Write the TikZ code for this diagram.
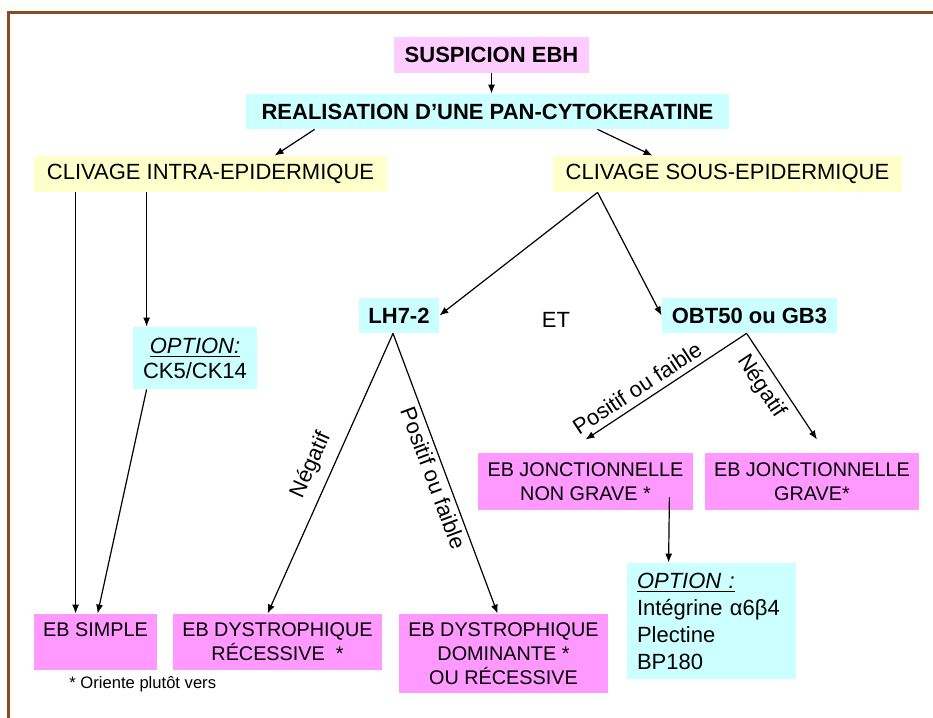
\documentclass[tikz,border=0pt]{standalone}
\usepackage{fontspec}
\setmainfont{Liberation Sans}
\usetikzlibrary{arrows.meta}
\definecolor{ebpink}{HTML}{FF99FF}
\definecolor{ebpale}{HTML}{FFCCFF}
\definecolor{ebcyan}{HTML}{CCFFFF}
\definecolor{ebyellow}{HTML}{FFFFCC}
\definecolor{framebrown}{RGB}{140,75,35}

\begin{document}
\begin{tikzpicture}[%
  x=0.5pt, y=-0.5pt,
  box/.style={inner sep=0pt, align=center, font=\fontsize{11}{12.5}\selectfont},
  pinkbox/.style={box, fill=ebpink, font=\fontsize{9.9}{12}\selectfont},
  palebox/.style={box, fill=ebpale},
  cyanbox/.style={box, fill=ebcyan},
  yellowbox/.style={box, fill=ebyellow},
  arr/.style={-{Latex[length=4.5pt,width=3.5pt]}, line width=0.6pt},
  tlabel/.style={font=\fontsize{11}{12}\selectfont, sloped, inner sep=2pt}]
\useasboundingbox (0,0) rectangle (933,718);
\draw[framebrown, line width=1.5pt] (8.5,718) -- (8.5,12.5) -- (933,12.5);

% top of the tree
\node[palebox, minimum width=97.5pt, minimum height=18pt] (susp) at (491.5,55) {\bfseries SUSPICION EBH};
\node[cyanbox, minimum width=241.5pt, minimum height=17.5pt] (real) at (487.5,111.5) {\bfseries REALISATION D’UNE PAN-CYTOKERATINE};
\node[yellowbox, minimum width=176.5pt, minimum height=18pt] (intra) at (210.5,174) {CLIVAGE INTRA-EPIDERMIQUE};
\node[yellowbox, minimum width=174.5pt, minimum height=18pt] (sous) at (727.5,174) {CLIVAGE SOUS-EPIDERMIQUE};

% markers
\node[cyanbox, minimum width=62pt, minimum height=31pt] (optck) at (195,358) {\underline{\textit{OPTION:}}\\CK5/CK14};
\node[cyanbox, minimum width=40pt, minimum height=17.5pt] (lh) at (399,315.5) {\bfseries LH7-2};
\node[cyanbox, minimum width=87.5pt, minimum height=17.5pt] (obt) at (749.5,315.5) {\bfseries OBT50 ou GB3};
\node[box] (et) at (556,320) {ET};

% diagnoses
\node[pinkbox, minimum width=61.5pt, minimum height=28pt] (simple) at (95.5,642) {EB SIMPLE\\\mbox{}};
\node[pinkbox, minimum width=104.5pt, minimum height=28pt] (rec) at (277.5,642) {EB DYSTROPHIQUE\\RÉCESSIVE\ \ *};
\node[pinkbox, minimum width=104.5pt, minimum height=39.5pt] (dom) at (503.5,653.5) {EB DYSTROPHIQUE\\DOMINANTE *\\OU RÉCESSIVE};
\node[pinkbox, minimum width=107.5pt, minimum height=28.5pt] (nongrave) at (585.5,481.5) {EB JONCTIONNELLE\\NON GRAVE *};
\node[pinkbox, minimum width=107pt, minimum height=28.5pt] (grave) at (812,481.5) {EB JONCTIONNELLE\\GRAVE*};
\node[cyanbox, align=left, inner xsep=5pt, text width=74.5pt, minimum height=58pt, font=\fontsize{11}{13.5}\selectfont] (optint) at (711.5,621) {\underline{\textit{OPTION :}}\\Intégrine α6β4\\Plectine\\BP180};
\node[font=\fontsize{8.3}{10}\selectfont, anchor=west, inner sep=0pt] (note) at (69,684) {* Oriente plutôt vers};

% connectors
\draw[arr] (susp.south) -- (susp.south |- real.north);
\draw[arr] ([xshift=34.5pt]real.south west) -- ([xshift=120.5pt]intra.north west);
\draw[arr] ([xshift=176pt]real.south west) -- ([xshift=50pt]sous.north west);
\draw[arr] ([xshift=21pt]intra.south west) -- ([xshift=21pt]simple.north west);
\draw[arr] ([xshift=56.5pt]intra.south west) -- ([xshift=7pt]optck.north west);
\draw[arr] ([xshift=7pt]optck.south west) -- ([xshift=32pt]simple.north west);
\draw[arr] ([xshift=22.5pt]sous.south west) -- (lh.east);
\draw[arr] ([xshift=22.5pt]sous.south west) -- (obt.west);
\draw[arr] ([xshift=-3pt]lh.south) -- node[tlabel, midway, above=3pt] {Négatif} ([xshift=47.5pt]rec.north west);
\draw[arr] ([xshift=-3pt]lh.south) -- node[tlabel, midway, below] {Positif ou faible} ([xshift=49.5pt]dom.north west);
\draw[arr] ([xshift=42.5pt]obt.south west) -- node[tlabel, pos=0.63, above=1pt] {Positif ou faible} ([yshift=6.5pt]nongrave.north);
\draw[arr] ([xshift=42.5pt]obt.south west) -- node[tlabel, pos=0.41, below=1pt] {Négatif} ([xshift=2.5pt,yshift=6.5pt]grave.north);
\draw[arr] ([xshift=-12pt,yshift=6.5pt]nongrave.south east) -- ([xshift=21pt]optint.north west);
\end{tikzpicture}
\end{document}
